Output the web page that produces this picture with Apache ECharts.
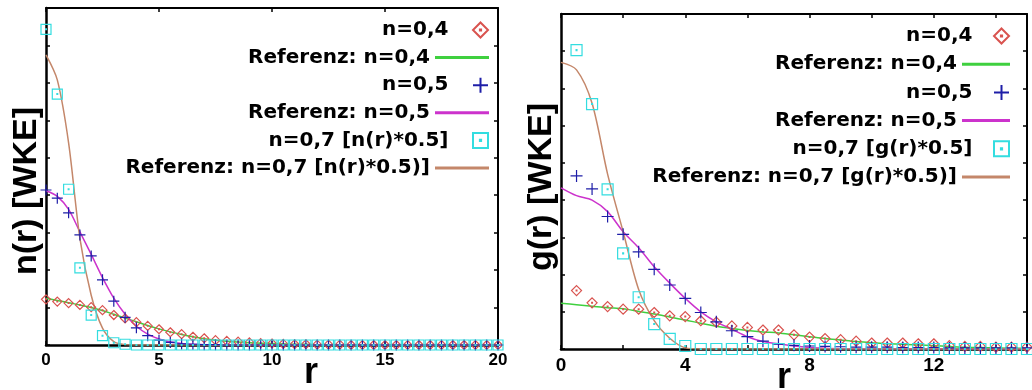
<!DOCTYPE html>
<html><head><meta charset="utf-8">
<script src="https://cdn.jsdelivr.net/npm/echarts@6/dist/echarts.min.js"></script>
<style>html,body{margin:0;padding:0;background:#fff}#c{width:1032px;height:390px}</style>
</head><body><div id="c"></div>
<script>
// ---------- Left panel: n(r) ----------
const rN = [0,0.5,1,1.5,2,2.5,3,3.5,4,4.5,5,5.5,6,6.5,7,7.5,8,8.5,9,9.5,10,10.5,11,11.5,12,12.5,13,13.5,14,14.5,15,15.5,16,16.5,17,17.5,18,18.5,19,19.5,20];
const nDia04 = [1.22,1.16,1.12,1.07,1.01,0.93,0.80,0.71,0.61,0.51,0.42,0.34,0.29,0.22,0.18,0.13,0.11,0.09,0.07,0.05,0.04,0.03,0.02,0.02,0.01,0.01,0.01,0,0,0,0,0,0,0,0,0,0,0,0,0,0];
const nRef04 = [1.25,1.19,1.13,1.07,1.00,0.92,0.82,0.72,0.62,0.52,0.43,0.35,0.28,0.22,0.17,0.13,0.10,0.08,0.06,0.05,0.04,0.03,0.02,0.02,0.01,0.01,0,0,0,0,0,0,0,0,0,0,0,0,0,0,0];
const nCross05 = [4.14,3.92,3.53,2.94,2.38,1.74,1.17,0.74,0.46,0.25,0.13,0.07,0.03,0.02,0.01,0.01,0,0,0,0,0,0,0,0,0,0,0,0,0,0,0,0,0,0,0,0,0,0,0,0,0];
const nRef05 = [4.12,3.97,3.62,3.02,2.42,1.80,1.25,0.82,0.50,0.29,0.16,0.08,0.04,0.02,0.01,0,0,0,0,0,0,0,0,0,0,0,0,0,0,0,0,0,0,0,0,0,0,0,0,0,0];
const nSq07 = [8.43,6.70,4.16,2.06,0.80,0.25,0.06,0.02,0,0,0,0,0,0,0,0,0,0,0,0,0,0,0,0,0,0,0,0,0,0,0,0,0,0,0,0,0,0,0,0,0];
const nRef07 = [7.75,7.08,5.40,2.85,1.33,0.45,0.09,0.01,0,0,0,0,0,0,0,0,0,0,0,0,0,0,0,0,0,0,0,0,0,0,0,0,0,0,0,0,0,0,0,0,0];

// ---------- Right panel: g(r) ----------
const rG = [0,0.5,1,1.5,2,2.5,3,3.5,4,4.5,5,5.5,6,6.5,7,7.5,8,8.5,9,9.5,10,10.5,11,11.5,12,12.5,13,13.5,14,14.5,15];
const rGm = [0.5,1,1.5,2,2.5,3,3.5,4,4.5,5,5.5,6,6.5,7,7.5,8,8.5,9,9.5,10,10.5,11,11.5,12,12.5,13,13.5,14,14.5,15];
const gDia04 = [1.57,1.24,1.14,1.07,1.07,0.98,0.89,0.87,0.76,0.72,0.62,0.58,0.51,0.51,0.38,0.32,0.28,0.25,0.21,0.16,0.16,0.16,0.14,0.14,0.09,0.07,0.07,0.05,0.05,0.05];
const gRef04 = [1.23,1.19,1.15,1.11,1.08,1.01,0.94,0.86,0.78,0.69,0.61,0.55,0.50,0.46,0.43,0.38,0.33,0.28,0.24,0.20,0.17,0.14,0.13,0.11,0.09,0.07,0.05,0.04,0.03,0.02,0.02];
const gCross05 = [4.65,4.30,3.56,3.08,2.61,2.14,1.72,1.36,0.98,0.73,0.49,0.33,0.21,0.13,0.10,0.08,0.07,0.06,0.05,0.05,0.05,0.04,0.04,0.04,0.03,0.03,0.03,0.03,0.03,0.03];
const gRef05 = [4.33,4.12,4.00,3.69,3.15,2.72,2.21,1.77,1.36,1.00,0.73,0.53,0.33,0.20,0.14,0.08,0.04,0.02,0.01,0.01,0,0,0,0,0,0,0,0,0,0,0];
const gSq07 = [8.03,6.58,4.29,2.57,1.39,0.67,0.27,0.08,0,0,0,0,0,0,0,0,0,0,0,0,0,0,0,0,0,0,0,0,0,0];
const gRef07 = [7.70,7.50,6.60,4.70,3.15,1.60,0.76,0.29,0.03,0,0,0,0,0,0,0,0,0,0,0,0,0,0,0,0,0,0,0,0,0,0];

const namesN = ['n=0,4','Referenz: n=0,4','n=0,5','Referenz: n=0,5','n=0,7 [n(r)*0.5]','Referenz: n=0,7 [n(r)*0.5)]'];
const namesG = ['n=0,4','Referenz: n=0,4','n=0,5','Referenz: n=0,5','n=0,7 [g(r)*0.5]','Referenz: n=0,7 [g(r)*0.5)]'];
const xTicksN = [0,5,10,15,20];
const xTicksG = [0,4,8,12];

const C = {dia:'#d9534f', green:'#3fd03f', cross:'#1e1ea8', mag:'#cc33cc', cyan:'#33dde0', brown:'#c4876a'};
const SYM = {
  dia:'path://M5,0L10,5L5,10L0,5ZM4.6,4.6L5.4,4.6L5.4,5.4L4.6,5.4Z',
  cross:'path://M5,0L5,10M0,5L10,5',
  sq:'path://M0,0L10,0L10,10L0,10ZM4.6,4.6L5.4,4.6L5.4,5.4L4.6,5.4Z'
};
const pairs = (xs, ys) => xs.map((x,i)=>[x, ys[i]]);

function scatter(name, g, xs, ys, sym, color, size){
  return {name, type:'scatter', xAxisIndex:g*2, yAxisIndex:g*2, data:pairs(xs,ys),
    symbol:sym, symbolSize:size, z:3,
    itemStyle:{color:'rgba(0,0,0,0)', borderColor:color, borderWidth:1.2, opacity:1}};
}
function line(name, g, xs, ys, color){
  return {name, type:'line', xAxisIndex:g*2, yAxisIndex:g*2, data:pairs(xs,ys), symbol:'none',
    smooth:0.3, z:2, lineStyle:{color, width:1.5}, itemStyle:{color}};
}

const series = [
  line(namesN[1],0,rN,nRef04,C.green),
  line(namesN[3],0,rN,nRef05,C.mag),
  line(namesN[5],0,rN,nRef07,C.brown),
  scatter(namesN[0],0,rN,nDia04,SYM.dia,C.dia,9),
  scatter(namesN[2],0,rN,nCross05,SYM.cross,C.cross,11),
  scatter(namesN[4],0,rN,nSq07,SYM.sq,C.cyan,10),
  line(namesG[1],1,rG,gRef04,C.green),
  line(namesG[3],1,rG,gRef05,C.mag),
  line(namesG[5],1,rG,gRef07,C.brown),
  scatter(namesG[0],1,rGm,gDia04,SYM.dia,C.dia,10),
  scatter(namesG[2],1,rGm,gCross05,SYM.cross,C.cross,12),
  scatter(namesG[4],1,rGm,gSq07,SYM.sq,C.cyan,11)
];

const legends = [];
function addLegends(names, right, top0, step, w){
  names.forEach((n,i)=>{
    const isLine = (i % 2) === 1;
    legends.push({data:[isLine ? {name:n, icon:'rect'} : n], orient:'horizontal', align:'right', right,
      top: top0 + step*i + (isLine ? 0 : 0), padding:0,
      itemWidth:w, itemHeight: isLine ? 3 : 15, symbolKeepAspect: !isLine, selectedMode:false,
      textStyle:{fontFamily:'DejaVu Sans', fontWeight:'bold', fontSize:20, color:'#000'}});
  });
}
addLegends(namesN, 543, 20, 27.6, 54);
addLegends(namesG, 22, 26, 28.2, 48);

const axLine = (w)=>({show:true, onZero:false, lineStyle:{color:'#000', width:w}});
const tick = {show:true, inside:true, length:4, lineStyle:{color:'#000', width:1.5}};
function xAx(g, max, interval, pos, labels, fs, ticks){
  return {type:'value', gridIndex:g, min:0, max, interval, position:pos,
    axisLine:axLine(pos==='bottom'?2.5:2), axisTick:tick, splitLine:{show:false},
    axisLabel:{show:labels, color:'#000', fontFamily:'Liberation Sans', fontWeight:'bold', fontSize:fs, margin:7,
      formatter:(v)=> ticks.indexOf(v)>=0 ? String(v) : ''}};
}
function yAx(g, pos){
  return {type:'value', gridIndex:g, min:0, max:9, interval:1, position:pos,
    axisLine:axLine(pos==='left'?2.5:2), axisTick:tick, splitLine:{show:false}, axisLabel:{show:false}};
}

const titleFont = (s)=>'bold '+s+'px "Liberation Sans"';
function txt(text, x, y, size, rot){
  return {type:'text', x, y, rotation:rot||0, z:10,
    style:{text, fill:'#000', font:titleFont(size), align:'center', verticalAlign:'middle', textAlign:'center', textVerticalAlign:'middle'}};
}

const option = {
  animation:false,
  backgroundColor:'#fff',
  grid:[
    {left:46, right:534, top:8, bottom:45},
    {left:561, right:5, top:14, bottom:41}
  ],
  xAxis:[
    xAx(0,20,5,'bottom',true,17,xTicksN), xAx(0,20,5,'top',false,17,xTicksN),
    xAx(1,15,2,'bottom',true,19,xTicksG), xAx(1,15,2,'top',false,19,xTicksG)
  ],
  yAxis:[ yAx(0,'left'), yAx(0,'right'), yAx(1,'left'), yAx(1,'right') ],
  legend: legends,
  series,
  graphic:[
    txt('n(r) [WKE]', 27, 191, 34, Math.PI/2),
    txt('g(r) [WKE]', 542, 187, 34, Math.PI/2),
    txt('r', 311, 373, 36),
    txt('r', 784, 378, 36)
  ]
};
const chart = echarts.init(document.getElementById('c'), null, {renderer:'canvas'});
chart.setOption(option);
</script></body></html>
